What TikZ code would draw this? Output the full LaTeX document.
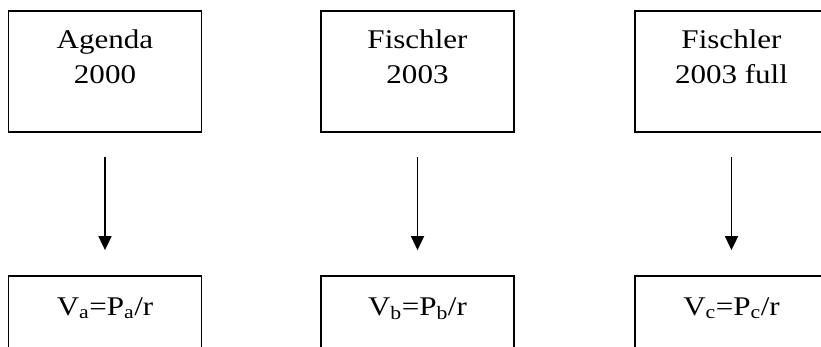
\documentclass[tikz,border=0pt]{standalone}
\usepackage{fontspec}
\setmainfont{Liberation Serif}[FakeStretch=1.15]
\usetikzlibrary{arrows.meta,calc}
\begin{document}
\begin{tikzpicture}[x=1pt,y=-1pt,
  card/.style={draw, line width=1.8pt, minimum width=193pt, minimum height=121pt, inner sep=0pt},
  caption/.style={font=\fontsize{27}{35}\selectfont, align=center, inner sep=0pt, anchor=north},
  flow/.style={-{Triangle[width=13pt,length=14pt]}, line width=1.8pt, shorten <=24pt, shorten >=25pt}]
\useasboundingbox (0,0) rectangle (821,346);
\clip (0,0) rectangle (821,346);
% scenario boxes
\node[card] (agenda) at (105,71.5) {};
\node[card] (fischler) at (417.5,71.5) {};
\node[card] (full) at (731.5,71.5) {};
% value boxes
\node[card] (va) at (105,336.5) {};
\node[card] (vb) at (417.5,336.5) {};
\node[card] (vc) at (731.5,336.5) {};
% box captions
\node[caption] (agendatext) at ($(agenda.north)+(0,19)$) {Agenda\\2000};
\node[caption] (fischlertext) at ($(fischler.north)+(0,19)$) {Fischler\\2003};
\node[caption] (fulltext) at ($(full.north)+(0,19)$) {Fischler\\2003 full};
\node[caption] (vatext) at ($(va.north)+(0,22)$) {V\textsubscript{a}=P\textsubscript{a}/r};
\node[caption] (vbtext) at ($(vb.north)+(0,22)$) {V\textsubscript{b}=P\textsubscript{b}/r};
\node[caption] (vctext) at ($(vc.north)+(0,22)$) {V\textsubscript{c}=P\textsubscript{c}/r};
% arrows
\draw[flow] (agenda) -- (va);
\draw[flow] (fischler) -- (vb);
\draw[flow] (full) -- (vc);
\end{tikzpicture}
\end{document}
